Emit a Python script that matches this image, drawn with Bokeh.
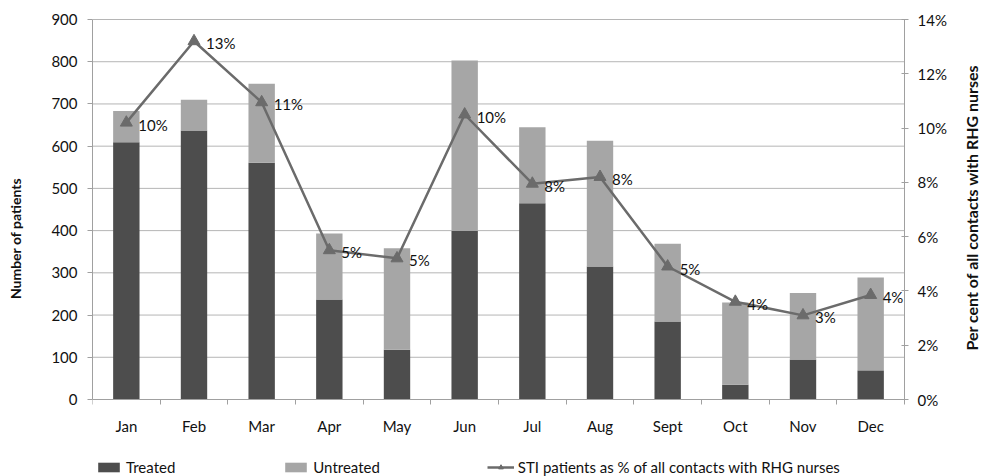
import numpy as np
from bokeh.plotting import figure
from bokeh.models import (Range1d, LinearAxis, FixedTicker, CustomJSTickFormatter,
                          PrintfTickFormatter, Legend, LegendItem, ColumnDataSource, Label)
from bokeh.core.properties import value
from bokeh.embed import file_html
from bokeh.resources import INLINE

months = ["Jan", "Feb", "Mar", "Apr", "May", "Jun", "Jul", "Aug", "Sept", "Oct", "Nov", "Dec"]
treated = [609, 637, 561, 237, 118, 399, 465, 315, 185, 35, 95, 69]
untreated = [74, 73, 187, 156, 240, 404, 180, 298, 184, 195, 157, 220]
sti_pct = [10.2, 13.2, 10.95, 5.5, 5.2, 10.5, 7.95, 8.2, 4.9, 3.6, 3.1, 3.85]
pct_labels = ["10%", "13%", "11%", "5%", "5%", "10%", "8%", "8%", "5%", "4%", "3%", "4%"]
count_ticks = list(range(0, 901, 100))
pct_ticks = list(range(0, 15, 2))

FONT = "Lato"
DARK = "#4d4d4d"
LIGHT = "#a6a6a6"
LINE = "#6b6b6b"
GRID = "#b5b5b5"
AXIS = "#a0a0a0"

# layout (pixels)
W, H = 981, 476
PL, PR, PT, PB = 92, 904, 19, 399          # plot area edges
plot_w, plot_h = PR - PL, PB - PT
frame_w = W - PL
n = len(months)
YMAX, PMAX = 900, 14

x = np.arange(n) + 0.5
src = ColumnDataSource(dict(x=x, treated=treated, untreated=untreated,
                            pct=sti_pct, lab=pct_labels))

# frame extends to the right, top and bottom edges so legend / right axis are not clipped
x_end = n * frame_w / plot_w
y_start = -YMAX * (H - PB) / plot_h
y_end = YMAX + YMAX * PT / plot_h
p_start = -PMAX * (H - PB) / plot_h
p_end = PMAX + PMAX * PT / plot_h

p = figure(width=W, height=H, output_backend="svg", toolbar_location=None,
           x_range=Range1d(0, x_end), y_range=Range1d(y_start, y_end),
           min_border_left=PL, min_border_right=0, min_border_top=0, min_border_bottom=0)
p.extra_y_ranges = {"pct": Range1d(p_start, p_end)}
p.outline_line_color = None
p.background_fill_color = "white"
p.border_fill_color = "white"
p.xgrid.visible = False
p.ygrid.visible = False

# horizontal gridlines limited to the plot area
p.segment(x0=0, x1=n, y0=count_ticks, y1=count_ticks, line_color=GRID, line_width=1)

bars = p.vbar_stack(["treated", "untreated"], x="x", width=0.39, source=src,
                    fill_color=[DARK, LIGHT], line_color=None)

line_r = p.line("x", "pct", source=src, y_range_name="pct", line_color=LINE, line_width=2.5)
mark_r = p.scatter("x", "pct", source=src, y_range_name="pct", marker="triangle",
                   size=12, fill_color=LINE, line_color=LINE)
p.text("x", "pct", text="lab", source=src, y_range_name="pct", x_offset=12, y_offset=2,
       text_baseline="middle", text_align="left", text_font=value(FONT),
       text_font_size="15px", text_color="#111111")

xa = p.xaxis[0]
xa.fixed_location = 0
xa.bounds = (0, n)
xa.ticker = FixedTicker(ticks=list(x), minor_ticks=list(range(0, n + 1)))
xa.formatter = CustomJSTickFormatter(args=dict(labels=months),
                                     code="return labels[Math.floor(tick)]")
xa.major_tick_out = 0
xa.major_tick_in = 0
xa.minor_tick_out = 5
xa.minor_tick_in = 0
xa.minor_tick_line_color = AXIS
xa.axis_line_color = AXIS
xa.major_label_standoff = 12
xa.major_label_text_font = FONT
xa.major_label_text_font_size = "15px"
xa.major_label_text_color = "#111111"

ya = p.yaxis[0]
ya.bounds = (0, YMAX)
ya.ticker = FixedTicker(ticks=count_ticks)
ya.axis_label = "Number of patients"
ya.axis_label_text_font = FONT
ya.axis_label_text_font_style = "bold"
ya.axis_label_text_font_size = "14px"
ya.axis_label_text_color = "#111111"
ya.axis_label_standoff = 24
ya.major_tick_out = 5
ya.major_tick_in = 0
ya.minor_tick_line_color = None
ya.major_tick_line_color = AXIS
ya.axis_line_color = AXIS
ya.major_label_standoff = 10
ya.major_label_text_font = FONT
ya.major_label_text_font_size = "15px"
ya.major_label_text_color = "#111111"

ra = LinearAxis(y_range_name="pct", ticker=FixedTicker(ticks=pct_ticks),
                formatter=PrintfTickFormatter(format="%d%%"))
ra.fixed_location = n
ra.bounds = (0, PMAX)
ra.major_tick_out = 4
ra.major_tick_in = 3
ra.minor_tick_line_color = None
ra.major_tick_line_color = AXIS
ra.axis_line_color = AXIS
ra.major_label_standoff = 9
ra.major_label_text_font = FONT
ra.major_label_text_font_size = "15px"
ra.major_label_text_color = "#111111"
p.add_layout(ra, "right")

# right-hand axis title, reading bottom to top
title_x = n + (971 - PR) / (plot_w / n)
title_y = (PB - 207) / (plot_h / YMAX)
p.add_layout(Label(x=title_x, y=title_y, text="Per cent of all contacts with RHG nurses",
                   angle=np.pi / 2, text_align="center", text_baseline="middle",
                   text_font=FONT, text_font_style="bold", text_font_size="16px",
                   text_color="#111111"))

legend = Legend(items=[LegendItem(label="Treated", renderers=[bars[0]]),
                       LegendItem(label="Untreated", renderers=[bars[1]]),
                       LegendItem(label="STI patients as % of all contacts with RHG nurses",
                                  renderers=[line_r, mark_r])],
                orientation="horizontal", location=(3, 0),
                glyph_width=27, glyph_height=12, label_height=18, label_standoff=4,
                spacing=107, padding=0, margin=0, border_line_color=None,
                background_fill_alpha=0,
                label_text_font=FONT, label_text_font_size="15px", label_text_color="#111111")
p.add_layout(legend, "center")

open("out.html", "w").write(file_html(p, INLINE))
